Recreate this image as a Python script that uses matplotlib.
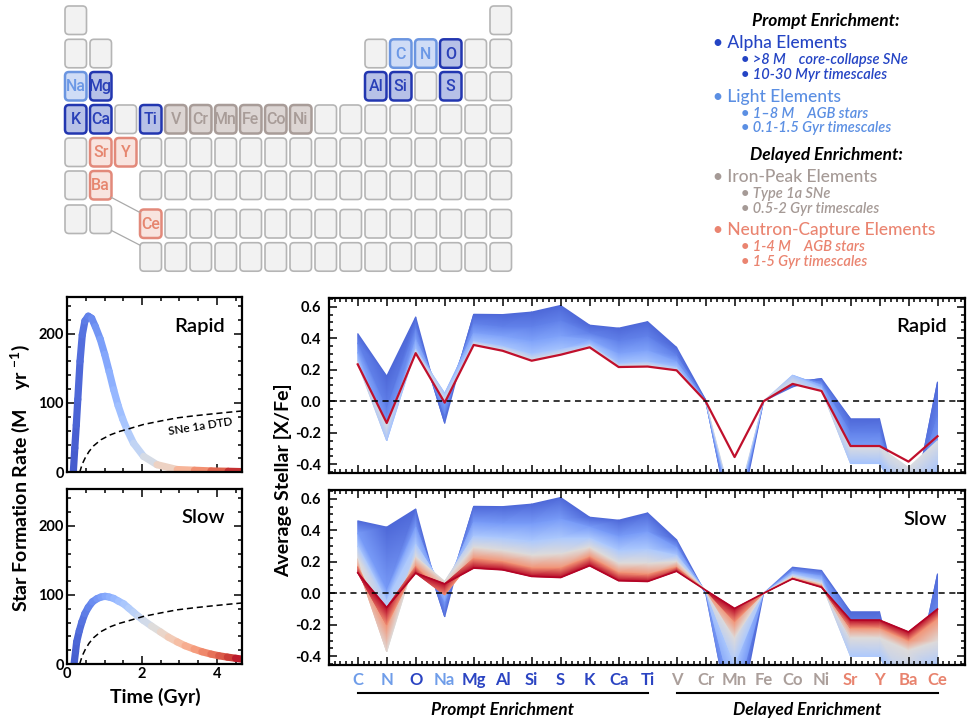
#!/usr/bin/env python
# -*- coding: utf-8 -*-

import numpy as np
import matplotlib
matplotlib.use("Agg")
import matplotlib.pyplot as plt
import matplotlib.tri as mtri
from matplotlib.collections import LineCollection
from matplotlib.colors import Normalize
from matplotlib.patches import FancyBboxPatch
from matplotlib.ticker import MultipleLocator, FormatStrFormatter
from matplotlib.transforms import blended_transform_factory

plt.rcParams['font.family'] = ['Lato', 'DejaVu Sans']
plt.rcParams['font.weight'] = 'bold'
plt.rcParams['axes.unicode_minus'] = False
plt.rcParams['mathtext.default'] = 'regular'

# ---------------- data ----------------
elements = ['C', 'N', 'O', 'Na', 'Mg', 'Al', 'Si', 'S', 'K', 'Ca', 'Ti',
            'V', 'Cr', 'Mn', 'Fe', 'Co', 'Ni', 'Sr', 'Y', 'Ba', 'Ce']
groups = ['light', 'light', 'alpha', 'light', 'alpha', 'alpha', 'alpha', 'alpha',
          'alpha', 'alpha', 'alpha', 'iron', 'iron', 'iron', 'iron', 'iron', 'iron',
          'ncap', 'ncap', 'ncap', 'ncap']

# position in the periodic table (row 8 = lanthanide row)
table_rows = [2, 2, 2, 3, 3, 3, 3, 3, 4, 4, 4, 4, 4, 4, 4, 4, 4, 5, 5, 6, 8]
table_cols = [14, 15, 16, 1, 2, 13, 14, 16, 1, 2, 4, 5, 6, 7, 8, 9, 10, 2, 3, 2, 4]

# star formation histories (Gyr, Msun/yr)
rapid_sfr_t = [0.16, 0.20, 0.24, 0.28, 0.34, 0.40, 0.47, 0.56, 0.65, 0.75, 0.88, 1.00,
               1.12, 1.24, 1.36, 1.48, 1.60, 1.77, 2.04, 2.40, 2.94, 3.40, 3.84, 4.30, 4.69]
rapid_sfr = [0, 35, 68, 105, 160, 198, 218, 225, 222, 210, 192, 170,
             145, 119, 96, 77, 61, 42, 23, 11, 4, 3, 2, 1.5, 1]
slow_sfr_t = [0.18, 0.22, 0.25, 0.32, 0.39, 0.47, 0.56, 0.67, 0.79, 0.90, 1.01, 1.12,
              1.24, 1.37, 1.51, 1.64, 1.77, 1.90, 2.04, 2.25, 2.49, 2.70, 2.94, 3.15,
              3.39, 3.60, 3.84, 4.05, 4.28, 4.50, 4.69]
slow_sfr = [0, 18, 32, 48, 61, 73, 82, 90, 94.5, 97, 98, 97,
            95, 91, 87, 81, 75, 69, 63, 55, 46.5, 39, 32, 26.5,
            21.6, 17.8, 14.4, 12, 10, 8.3, 7]
dtd_t = [0.33, 0.40, 0.48, 0.58, 0.70, 0.90, 1.15, 1.40, 1.60, 2.04, 2.50, 2.94,
         3.40, 3.84, 4.30, 4.69]
dtd_rate = [0, 12, 21, 30, 38, 47, 54, 59, 62, 69, 74, 78.5, 81.5, 84, 86.5, 88.5]

# average stellar [X/Fe] at a few ages, rapid history
rapid_times = [0.3, 0.6, 1.0, 1.5, 2.3]
rapid_t03 = [0.43, 0.16, 0.535, -0.14, 0.552, 0.55, 0.566, 0.608, 0.483, 0.464, 0.505,
             0.342, 0.01, -0.90, 0.0, 0.09, 0.144, -0.111, -0.111, -0.87, 0.123]
rapid_t06 = [0.37, -0.05, 0.46, -0.08, 0.49, 0.47, 0.47, 0.51, 0.43, 0.38, 0.41,
             0.29, 0.005, -0.84, 0.0, 0.12, 0.12, -0.20, -0.20, -0.80, -0.10]
rapid_t10 = [0.31, -0.20, 0.39, 0.0, 0.43, 0.41, 0.38, 0.41, 0.39, 0.30, 0.32,
             0.25, 0.0, -0.78, 0.0, 0.15, 0.10, -0.31, -0.31, -0.70, -0.30]
rapid_t15 = [0.26, -0.25, 0.33, 0.05, 0.38, 0.35, 0.30, 0.33, 0.36, 0.24, 0.25,
             0.215, 0.0, -0.72, 0.0, 0.165, 0.08, -0.395, -0.395, -0.60, -0.45]
rapid_t23 = [0.24, -0.15, 0.31, 0.0, 0.363, 0.326, 0.263, 0.30, 0.347, 0.222, 0.225,
             0.20, 0.0, -0.70, 0.0, 0.115, 0.07, -0.29, -0.29, -0.42, -0.25]
rapid_final = [0.234, -0.138, 0.305, -0.009, 0.357, 0.32, 0.257, 0.295, 0.342, 0.217, 0.22,
               0.196, 0.0, -0.354, 0.0, 0.11, 0.065, -0.284, -0.284, -0.383, -0.222]

# slow history
slow_times = [0.3, 0.9, 1.6, 2.4, 3.6, 4.7]
slow_t03 = [0.46, 0.42, 0.535, -0.15, 0.552, 0.55, 0.566, 0.608, 0.483, 0.464, 0.51,
            0.34, 0.0, -0.94, 0.0, 0.166, 0.145, -0.117, -0.117, -0.87, 0.124]
slow_t09 = [0.38, 0.02, 0.42, -0.05, 0.45, 0.44, 0.44, 0.47, 0.42, 0.36, 0.39,
            0.29, 0.01, -0.70, 0.0, 0.14, 0.11, -0.30, -0.30, -0.75, -0.25]
slow_t16 = [0.30, -0.05, 0.31, 0.03, 0.36, 0.35, 0.33, 0.35, 0.35, 0.27, 0.28,
            0.24, 0.015, -0.45, 0.0, 0.12, 0.08, -0.40, -0.40, -0.60, -0.45]
slow_t24 = [0.22, -0.37, 0.23, 0.075, 0.29, 0.27, 0.24, 0.25, 0.29, 0.19, 0.19,
            0.20, 0.02, -0.28, 0.0, 0.105, 0.06, -0.28, -0.28, -0.36, -0.30]
slow_t36 = [0.17, -0.20, 0.17, -0.01, 0.22, 0.20, 0.16, 0.16, 0.23, 0.13, 0.12,
            0.165, 0.02, -0.18, 0.0, 0.097, 0.047, -0.22, -0.22, -0.30, -0.16]
slow_final = [0.13, -0.09, 0.128, 0.06, 0.16, 0.149, 0.107, 0.10, 0.175, 0.08, 0.075,
              0.14, 0.02, -0.096, 0.0, 0.092, 0.038, -0.17, -0.17, -0.245, -0.10]

# ---------------- style ----------------
group_edge = {'alpha': '#2236b0', 'light': '#6b95e0', 'iron': '#a89c98', 'ncap': '#e2897a'}
group_face = {'alpha': '#b7c1e7', 'light': '#cfdcf6', 'iron': '#dcd5d3', 'ncap': '#f8e4df'}
group_text = {'alpha': '#2a40b8', 'light': '#6b98e6', 'iron': '#a89c98', 'ncap': '#e6866f'}
label_col = {'alpha': '#2b44c2', 'light': '#6f9de9', 'iron': '#ab9f9b', 'ncap': '#e8836e'}

cmap = plt.get_cmap('coolwarm')
tnorm = Normalize(0.0, 4.7)

fig = plt.figure(figsize=(9.7, 7.22), dpi=100)

# ---------------- periodic table + legend (pixel coordinates) ----------------
ax0 = fig.add_axes([0, 0, 1, 1])
ax0.set_xlim(0, 970)
ax0.set_ylim(722, 0)
ax0.axis('off')

row_top = {1: 6.0, 2: 39.3, 3: 72.0, 4: 105.0, 5: 138.0, 6: 171.0, 7: 205.0, 8: 209.5, 9: 242.7}
row_cols = {1: [1, 18], 2: [1, 2] + list(range(13, 19)), 3: [1, 2] + list(range(13, 19)),
            4: list(range(1, 19)), 5: list(range(1, 19)), 6: [1, 2] + list(range(4, 19)),
            7: [1, 2], 8: list(range(4, 19)), 9: list(range(4, 19))}
cw, ch = 21.5, 28.5


def cell_x(col):
    return 65 + (col - 1) * 25


lookup = {(r, c): i for i, (r, c) in enumerate(zip(table_rows, table_cols))}
for r, cols in row_cols.items():
    for c in cols:
        x, y = cell_x(c), row_top[r]
        if (r, c) in lookup:
            i = lookup[(r, c)]
            g = groups[i]
            box = FancyBboxPatch((x, y), cw, ch, boxstyle="round,pad=0,rounding_size=4",
                                 fc=group_face[g], ec=group_edge[g], lw=1.8)
            ax0.add_patch(box)
            ax0.text(x + cw / 2, y + ch / 2 + 0.5, elements[i], ha='center', va='center',
                     fontsize=11.5, color=group_text[g], family=['Roboto', 'DejaVu Sans'],
                     fontweight='medium')
        else:
            box = FancyBboxPatch((x, y), cw, ch, boxstyle="round,pad=0,rounding_size=4",
                                 fc='#f2f2f2', ec='#b5b5b5', lw=1.2)
            ax0.add_patch(box)

# lanthanide / actinide connectors
ax0.plot([cell_x(2) + cw, cell_x(4)], [row_top[6] + ch - 2, row_top[8] + 3], color='#aaaaaa', lw=0.9)
ax0.plot([cell_x(2) + cw, cell_x(4)], [row_top[7] + ch - 3, row_top[9] + 2.5], color='#aaaaaa', lw=0.9)

# legend text
alpha_c, light_c, iron_c, ncap_c = '#2444c4', '#5b8fe3', '#a59a96', '#ea8470'
heads = [('Prompt Enrichment:', 20.7), ('Delayed Enrichment:', 155)]
for s, y in heads:
    ax0.text(826, y, s, ha='center', va='center', fontsize=12.5, fontweight='bold',
             style='italic', color='k')
mains = [('• Alpha Elements', alpha_c, 42.7), ('• Light Elements', light_c, 96.7),
         ('• Iron-Peak Elements', iron_c, 176.7), ('• Neutron-Capture Elements', ncap_c, 230)]
for s, c, y in mains:
    ax0.text(713, y, s, ha='left', va='center', fontsize=12.5, fontweight='medium', color=c)
subs = [('• >8 M    core-collapse SNe', alpha_c, 60), ('• 10-30 Myr timescales', alpha_c, 75.3),
        ('• 1–8 M    AGB stars', light_c, 113.7), ('• 0.1-1.5 Gyr timescales', light_c, 128),
        ('• Type 1a SNe', iron_c, 194), ('• 0.5-2 Gyr timescales', iron_c, 208.7),
        ('• 1-4 M    AGB stars', ncap_c, 246.7), ('• 1-5 Gyr timescales', ncap_c, 261.7)]
for s, c, y in subs:
    ax0.text(741, y, s, ha='left', va='center', fontsize=10.5, fontweight='semibold',
             style='italic', color=c)


def style_axes(ax, pad=3):
    for sp in ax.spines.values():
        sp.set_linewidth(1.6)
    ax.tick_params(which='both', direction='in', top=True, right=True, width=1.1,
                   labelsize=10.5, pad=pad)
    ax.tick_params(which='major', length=5.5)
    ax.tick_params(which='minor', length=3)


def sfr_line(ax, t, v):
    pts = np.column_stack([t, v])
    segs = np.stack([pts[:-1], pts[1:]], axis=1)
    tm = 0.5 * (np.asarray(t[:-1]) + np.asarray(t[1:]))
    lc = LineCollection(segs, colors=cmap(tnorm(tm)), linewidths=5.2, capstyle='round')
    ax.add_collection(lc)


# ---------------- SFR panels ----------------
axl1 = fig.add_axes([0.0694, 0.3458, 0.1804, 0.2432])
axl2 = fig.add_axes([0.0694, 0.0803, 0.1804, 0.2420])
for ax, t, v, name, ty in [(axl1, rapid_sfr_t, rapid_sfr, 'Rapid', 0.83),
                           (axl2, slow_sfr_t, slow_sfr, 'Slow', 0.84)]:
    sfr_line(ax, t, v)
    ax.plot(dtd_t, dtd_rate, color='k', lw=1.1, ls=(0, (4, 2.5)))
    ax.set_xlim(0, 4.68)
    ax.set_ylim(0, 253)
    ax.xaxis.set_major_locator(MultipleLocator(2))
    ax.xaxis.set_minor_locator(MultipleLocator(0.5))
    ax.yaxis.set_major_locator(MultipleLocator(100))
    ax.yaxis.set_minor_locator(MultipleLocator(20))
    style_axes(ax, pad=2.5)
    ax.text(0.90, ty, name, transform=ax.transAxes, ha='right', va='center',
            fontsize=14.5, fontweight='semibold')
axl1.tick_params(labelbottom=False)
axl1.text(3.55, 66, 'SNe 1a DTD', rotation=9, ha='center', va='center', fontsize=8.5,
          fontweight='semibold')

fig.text(20 / 970, 1 - 478 / 722, 'Star Formation Rate (M    yr $^{-1}$)', rotation=90,
         ha='center', va='center', fontsize=14)
fig.text(155 / 970, 1 - 697 / 722, 'Time (Gyr)', ha='center', va='center', fontsize=14)


# ---------------- abundance panels ----------------
def draw_fan(ax, snaps, times):
    x = np.arange(len(elements), dtype=float)
    n = len(x)
    tris = []
    for i in range(n - 1):
        tris.append([i, i + 1, n + i])
        tris.append([i + 1, n + i + 1, n + i])
    for k in range(len(snaps) - 1):
        ys = np.concatenate([snaps[k], snaps[k + 1]])
        tri = mtri.Triangulation(np.concatenate([x, x]), ys, tris)
        cs = np.concatenate([np.full(n, times[k]), np.full(n, times[k + 1])])
        ax.tripcolor(tri, cs, shading='gouraud', cmap=cmap, norm=tnorm, antialiased=True)


axr1 = fig.add_axes([0.3392, 0.3449, 0.6557, 0.2424])
axr2 = fig.add_axes([0.3392, 0.0789, 0.6557, 0.2424])

draw_fan(axr1, [rapid_t03, rapid_t06, rapid_t10, rapid_t15, rapid_t23], rapid_times)
axr1.plot(range(len(elements)), rapid_final, color='#c0102c', lw=1.6, zorder=4)

draw_fan(axr2, [slow_t03, slow_t09, slow_t16, slow_t24, slow_t36, slow_final], slow_times)
axr2.plot(range(len(elements)), slow_final, color='#b40426', lw=1.2, zorder=4)

for ax, name, ty in [(axr1, 'Rapid', 0.836), (axr2, 'Slow', 0.83)]:
    ax.axhline(0, color='k', lw=1.1, ls=(0, (4, 3)), zorder=5)
    ax.set_xlim(-0.99, 20.95)
    ax.set_ylim(-0.455, 0.655)
    ax.set_xticks(range(len(elements)))
    ax.xaxis.set_minor_locator(MultipleLocator(0.2))
    ax.set_yticks([-0.4, -0.2, 0.0, 0.2, 0.4, 0.6])
    ax.yaxis.set_major_formatter(FormatStrFormatter('%.1f'))
    ax.yaxis.set_minor_locator(MultipleLocator(0.05))
    style_axes(ax, pad=6)
    ax.text(0.971, ty, name, transform=ax.transAxes, ha='right', va='center',
            fontsize=14.5, fontweight='semibold')

axr1.tick_params(labelbottom=False)
axr2.set_xticklabels(elements)
axr2.tick_params(axis='x', labelsize=12, pad=5)
for lab, g in zip(axr2.get_xticklabels(), groups):
    lab.set_color(label_col[g])

fig.text(283 / 970, 1 - 480 / 722, 'Average Stellar [X/Fe]', rotation=90,
         ha='center', va='center', fontsize=14)

# enrichment brackets under the element axis
trans = blended_transform_factory(axr2.transData, axr2.transAxes)
axr2.plot([0, 10], [-0.16, -0.16], color='k', lw=1.5, transform=trans, clip_on=False)
axr2.plot([11, 20], [-0.16, -0.16], color='k', lw=1.5, transform=trans, clip_on=False)
axr2.text(5, -0.255, 'Prompt Enrichment', transform=trans, ha='center', va='center',
          fontsize=12.5, fontweight='bold', style='italic')
axr2.text(15.5, -0.255, 'Delayed Enrichment', transform=trans, ha='center', va='center',
          fontsize=12.5, fontweight='bold', style='italic')

fig.savefig('out.png', dpi=100)
